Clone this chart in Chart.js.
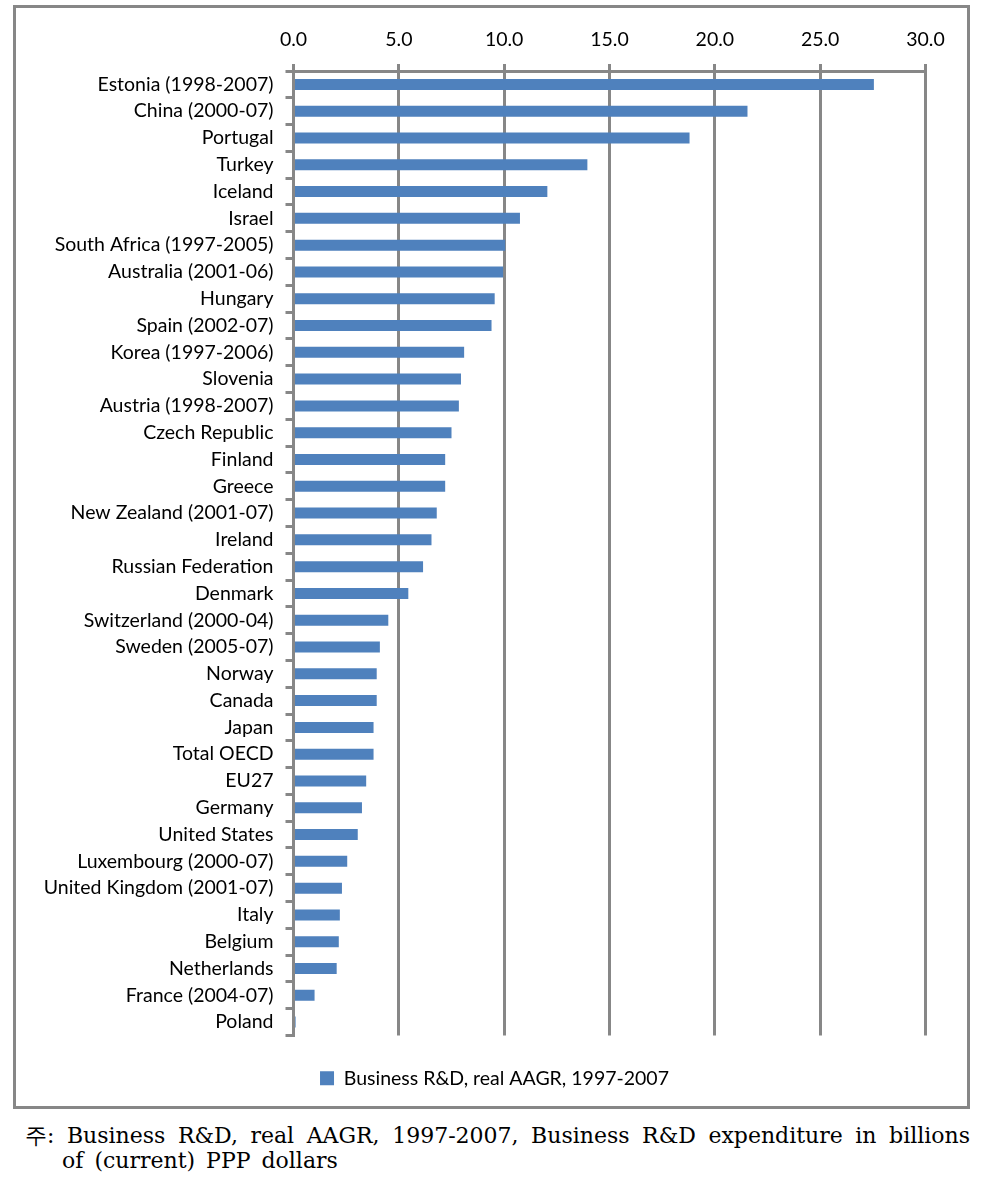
<!DOCTYPE html>
<html>
<head>
<meta charset="utf-8">
<script src="https://cdn.jsdelivr.net/npm/chart.js@4"></script>
<style>
  html, body { margin: 0; padding: 0; background: #fff; }
  body { position: relative; width: 981px; height: 1191px; overflow: hidden; }
  #frame { position: absolute; left: 13px; top: 5px; width: 957px; height: 1104px; box-sizing: border-box; border: 3px solid #878787; }
  #c { position: absolute; left: 0; top: 0; z-index: 1; }
  #note { position: absolute; left: 25px; top: 1123px; width: 945px; font-family: "DejaVu Serif", serif; font-size: 22px; line-height: 25px; color: #000; }
  #note .l1 { text-align: justify; text-align-last: justify; white-space: nowrap; }
  #note .l2 { padding-left: 37px; word-spacing: 4px; }
</style>
</head>
<body>
<div id="frame"></div>
<canvas id="c" width="981" height="1102"></canvas>
<div id="note">
  <div class="l1">주: Business R&amp;D, real AAGR, 1997-2007, Business R&amp;D expenditure in billions</div>
  <div class="l2">of (current) PPP dollars</div>
</div>
<script>
const categories = ["Estonia (1998-2007)","China (2000-07)","Portugal","Turkey","Iceland","Israel","South Africa (1997-2005)","Australia (2001-06)","Hungary","Spain (2002-07)","Korea (1997-2006)","Slovenia","Austria (1998-2007)","Czech Republic","Finland","Greece","New Zealand (2001-07)","Ireland","Russian Federation","Denmark","Switzerland (2000-04)","Sweden (2005-07)","Norway","Canada","Japan","Total OECD","EU27","Germany","United States","Luxembourg (2000-07)","United Kingdom (2001-07)","Italy","Belgium","Netherlands","France (2004-07)","Poland"];
const aagrValues = [27.55,21.55,18.8,13.95,12.05,10.75,10.05,9.95,9.55,9.4,8.1,7.95,7.85,7.5,7.2,7.2,6.8,6.55,6.15,5.45,4.5,4.1,3.95,3.95,3.8,3.8,3.45,3.25,3.05,2.55,2.3,2.2,2.15,2.05,1.0,0.1];
const seriesName = "Business R&D, real AAGR, 1997-2007";
const xTicks = [0, 5, 10, 15, 20, 25, 30];

const FONT = "Lato";
const FSIZE = 19.5;
const GRID = "#878787";

const legendShift = {
  id: "legendShift",
  afterLayout(chart) {
    if (chart.legend) { chart.legend.left = 63.5; chart.legend.width = chart.legend.right - 63.5; }
  }
};

new Chart(document.getElementById("c"), {
  type: "bar",
  data: {
    labels: categories,
    datasets: [{
      label: seriesName,
      data: aagrValues,
      backgroundColor: "#4F81BD",
      borderWidth: 0,
      barPercentage: 0.41,
      categoryPercentage: 1.0
    }]
  },
  plugins: [legendShift],
  options: {
    indexAxis: "y",
    responsive: false,
    animation: false,
    devicePixelRatio: 1,
    layout: { padding: { left: 0, right: 55.5, top: 0, bottom: 4 } },
    plugins: {
      tooltip: { enabled: false },
      legend: {
        position: "bottom",
        labels: {
          font: { family: FONT, size: FSIZE },
          color: "#000",
          boxWidth: 14,
          boxHeight: 14,
          padding: 33
        }
      }
    },
    scales: {
      x: {
        position: "top",
        min: xTicks[0],
        max: xTicks[xTicks.length - 1],
        afterBuildTicks: (s) => { s.ticks = xTicks.map(v => ({ value: v })); },
        afterFit: (s) => { s.height = 71; },
        ticks: {
          font: { family: FONT, size: FSIZE },
          color: "#000",
          padding: 13,
          callback: (v) => Number(v).toFixed(1)
        },
        grid: { color: GRID, lineWidth: 3, tickLength: 7, drawTicks: true },
        border: { display: true, color: GRID, width: 3 }
      },
      y: {
        afterFit: (s) => { s.width = 293.5; },
        ticks: {
          font: { family: FONT, size: FSIZE },
          color: "#000",
          padding: 12,
          autoSkip: false
        },
        grid: { drawOnChartArea: false, drawTicks: true, tickLength: 8, color: GRID, lineWidth: 3, offset: true },
        border: { display: true, color: GRID, width: 3 }
      }
    }
  }
});
</script>
</body>
</html>
